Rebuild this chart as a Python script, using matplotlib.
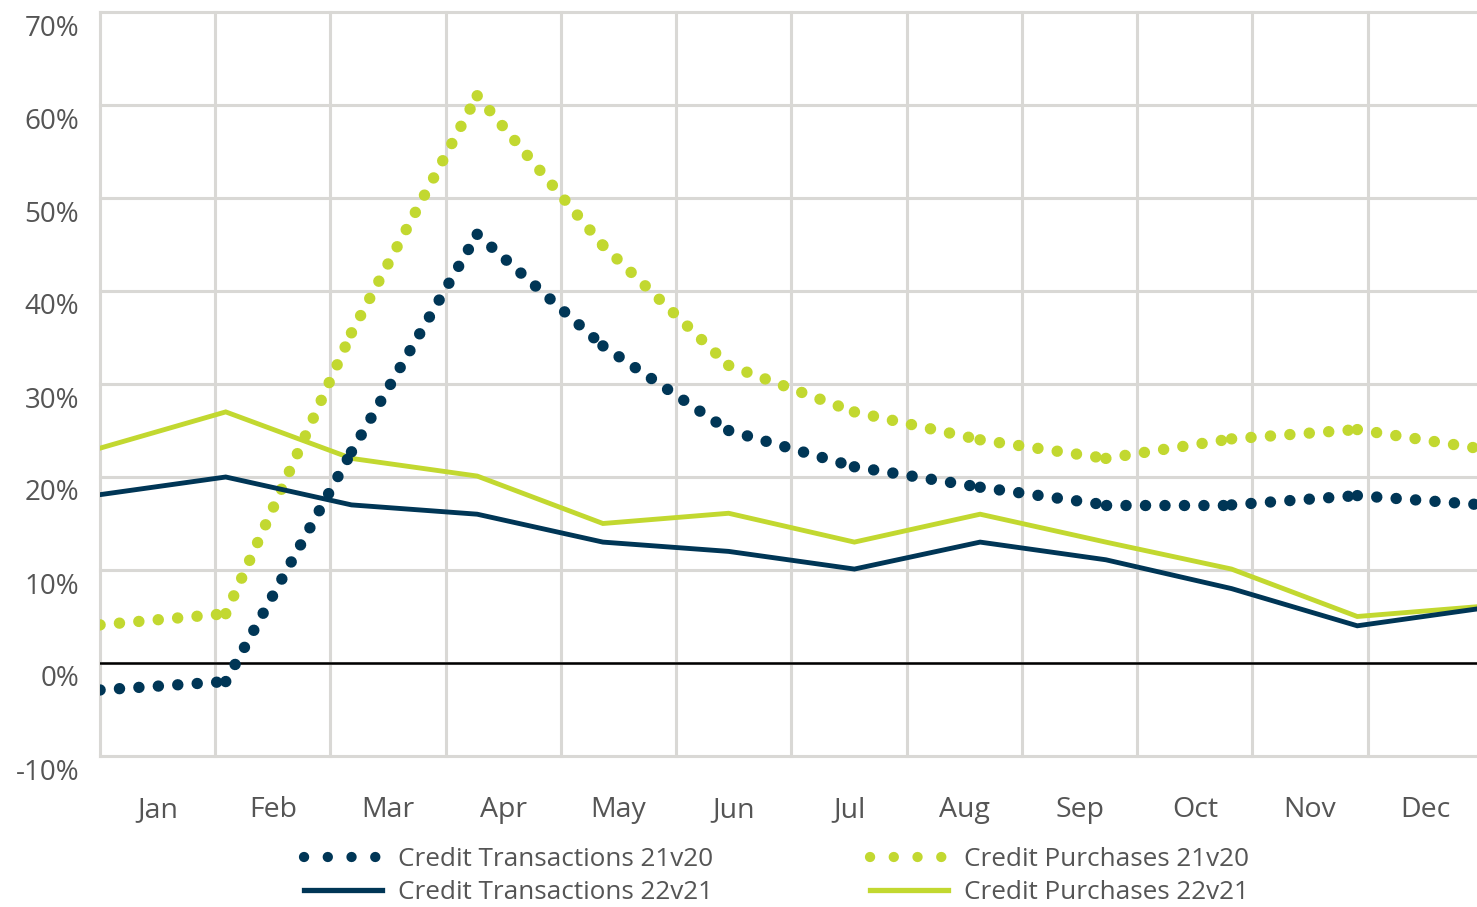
import matplotlib
matplotlib.use("Agg")
import matplotlib.pyplot as plt
import matplotlib.transforms as mtransforms
from matplotlib.lines import Line2D
import numpy as np

plt.rcParams['font.family'] = ['Open Sans', 'DejaVu Sans']

months = ["Jan", "Feb", "Mar", "Apr", "May", "Jun",
          "Jul", "Aug", "Sep", "Oct", "Nov", "Dec"]
ct_21v20 = [-2.9, -2.0, 22.7, 46.1, 34.1, 25.0, 21.1, 18.9, 17.0, 17.0, 18.0, 17.0]
cp_21v20 = [4.1, 5.3, 35.5, 61.0, 44.9, 32.0, 27.0, 24.0, 22.0, 24.1, 25.1, 23.0]
ct_22v21 = [18.1, 20.0, 17.0, 16.0, 13.0, 12.0, 10.1, 13.0, 11.1, 8.0, 4.0, 5.9]
cp_22v21 = [23.1, 27.0, 22.0, 20.1, 15.0, 16.1, 13.0, 16.0, 13.0, 10.1, 5.0, 6.1]
yticks = [-10, 0, 10, 20, 30, 40, 50, 60, 70]

navy = "#003656"
lime = "#c2d830"
grid_c = "#d9d8d5"
text_c = "#555555"

fig = plt.figure(figsize=(14.77, 9.07), dpi=100)
# plot area runs slightly past the right edge (cropped like the original)
ax = fig.add_axes([100 / 1477, 151 / 907, 1383 / 1477, 744 / 907])

n = len(months)
# points span the full width, grid uses category bands
x = np.arange(n) * n / (n - 1)

dot = dict(linestyle=(0, (0.01, 1.7)), dash_capstyle='round', linewidth=8.2)

# dotted series drawn per segment so the dots restart at each month
for i in range(n - 1):
    ax.plot(x[i:i + 2], ct_21v20[i:i + 2], color=navy, zorder=4, **dot)
    ax.plot(x[i:i + 2], cp_21v20[i:i + 2], color=lime, zorder=3, **dot)

ax.plot(x, ct_22v21, color=navy, lw=3.5, zorder=4, solid_joinstyle='miter')
ax.plot(x, cp_22v21, color=lime, lw=3.5, zorder=3, solid_joinstyle='miter')

ax.axhline(0, color='black', lw=1.8, zorder=2)

ax.set_xlim(0, n)
ax.set_ylim(-10, 70)
ax.set_xticks(np.arange(n + 1))
ax.set_xticklabels([])
ax.set_xticks(np.arange(n) + 0.5, minor=True)
ax.set_xticklabels(months, minor=True, fontsize=20.5, color=text_c)
ax.set_yticks(yticks)
ax.set_yticklabels([f"{v}%" for v in yticks], fontsize=20, color=text_c)
ax.tick_params(axis='both', which='both', length=0)
ax.tick_params(axis='x', which='minor', pad=29)
ax.tick_params(axis='y', pad=15)

ax.grid(True, which='major', color=grid_c, lw=2.2, zorder=0)
for gl in ax.get_xgridlines() + ax.get_ygridlines():
    gl.set_clip_on(False)
ax.set_axisbelow(True)
for s in ax.spines.values():
    s.set_visible(False)

# y labels sit a little below their gridlines
off = mtransforms.ScaledTranslation(0, -13 / 100, fig.dpi_scale_trans)
for lab in ax.get_yticklabels():
    lab.set_transform(lab.get_transform() + off)

leg_dot = dict(linestyle=(0, (0.01, 2.3)), dash_capstyle='round', linewidth=7.4)
handles = [
    Line2D([], [], color=navy, **leg_dot),
    Line2D([], [], color=navy, lw=3.8),
    Line2D([], [], color=lime, **leg_dot),
    Line2D([], [], color=lime, lw=3.8),
]
labels = ["Credit Transactions 21v20", "Credit Transactions 22v21",
          "Credit Purchases 21v20", "Credit Purchases 22v21"]
leg = fig.legend(handles, labels, ncol=2, loc='center', bbox_to_anchor=(0.5255, 0.034),
                 frameon=False, fontsize=18.8, handlelength=3.0, columnspacing=6.0,
                 handletextpad=0.6, labelspacing=0.3)
for t in leg.get_texts():
    t.set_color(text_c)

fig.savefig("out.png", dpi=100)
